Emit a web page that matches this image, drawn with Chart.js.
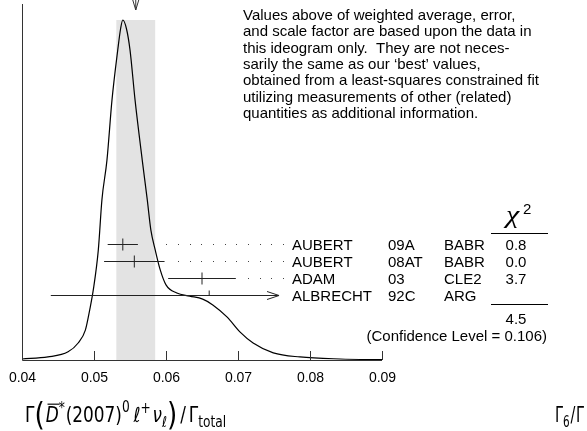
<!DOCTYPE html>
<html>
<head>
<meta charset="utf-8">
<script src="https://cdn.jsdelivr.net/npm/chart.js@4.4.1/dist/chart.umd.min.js"></script>
<style>
  html, body { margin: 0; padding: 0; background: #fff; }
  canvas { display: block; }
</style>
</head>
<body>
<canvas id="ideogram" width="587" height="431"></canvas>
<script>
// ideogram curve (value, relative height)
const curveX = [0.0400, 0.0436, 0.0464, 0.0478, 0.0488, 0.0494, 0.0499, 0.0506, 0.0511, 0.0518,
  0.0525, 0.0533, 0.0537, 0.0540, 0.0545, 0.0550, 0.0557, 0.0567, 0.0574, 0.0579, 0.0585,
  0.0592, 0.0600, 0.0615, 0.0633, 0.0651, 0.0665, 0.0685, 0.0703, 0.0721, 0.0749, 0.0786,
  0.0842, 0.0900];
const curveY = [0.003, 0.009, 0.024, 0.050, 0.088, 0.147, 0.206, 0.324, 0.471, 0.588,
  0.765, 0.912, 0.975, 1.000, 0.975, 0.912, 0.765, 0.588, 0.471, 0.382, 0.324,
  0.265, 0.221, 0.197, 0.188, 0.179, 0.162, 0.126, 0.082, 0.050, 0.021, 0.009,
  0.003, 0.001];

// measurements
const authors = ['AUBERT', 'AUBERT', 'ADAM', 'ALBRECHT'];
const years = ['09A', '08AT', '03', '92C'];
const experiments = ['BABR', 'BABR', 'CLE2', 'ARG'];
const values = [0.0540, 0.0556, 0.0650, 0.0660];
const errors = [0.0021, 0.0042, 0.0047, 0.0220];
const chi2 = ['0.8', '0.0', '3.7', ''];
const chi2Total = '4.5';
const confidenceLevel = '0.106';

// weighted average and its error
const avgValue = 0.0558;
const avgError = 0.0027;

const xTicks = [0.04, 0.05, 0.06, 0.07, 0.08, 0.09];
const xTickLabels = ['0.04', '0.05', '0.06', '0.07', '0.08', '0.09'];
const displayCut = 0.0757;

const note = [
  'Values above of weighted average, error,',
  'and scale factor are based upon the data in',
  'this ideogram only.  They are not neces-',
  'sarily the same as our \u2018best\u2019 values,',
  'obtained from a least-squares constrained fit',
  'utilizing measurements of other (related)',
  'quantities as additional information.'
];

const SANS = '"Liberation Sans", Arial, Helvetica, sans-serif';
const DEJA = '"DejaVu Sans", sans-serif';

// draws a run of text pieces at (0, 0) of the current transform
function drawPieces(ctx, pieces) {
  let x = 0;
  for (const p of pieces) {
    ctx.font = p.font;
    const w = ctx.measureText(p.t).width;
    ctx.fillText(p.t, x, p.dy || 0);
    if (p.over) {
      ctx.beginPath();
      ctx.lineWidth = 1;
      ctx.moveTo(x + 2, -15.5);
      ctx.lineTo(x + w + 1, -15.5);
      ctx.stroke();
    }
    x += w + (p.gap || 0);
  }
}

const ideogramPlugin = {
  id: 'ideogram',
  beforeDatasetsDraw(chart) {
    const ctx = chart.ctx;
    const xs = chart.scales.x, ys = chart.scales.y;
    const a = chart.chartArea;
    ctx.save();
    ctx.fillStyle = '#e3e3e3';
    const x0 = xs.getPixelForValue(avgValue - avgError);
    const x1 = xs.getPixelForValue(avgValue + avgError);
    const top = ys.getPixelForValue(1.0);
    ctx.fillRect(x0, top, x1 - x0, a.bottom - top);
    ctx.restore();
  },
  afterDatasetsDraw(chart) {
    const ctx = chart.ctx;
    const xs = chart.scales.x, ys = chart.scales.y, rows = chart.scales.rows;
    const a = chart.chartArea;
    ctx.save();
    ctx.strokeStyle = '#333';
    ctx.fillStyle = '#000';
    ctx.lineWidth = 1;

    // axes
    ctx.beginPath();
    ctx.moveTo(a.left + 0.5, a.top);
    ctx.lineTo(a.left + 0.5, a.bottom + 0.5);
    ctx.lineTo(a.right, a.bottom + 0.5);
    ctx.stroke();
    ctx.font = '14px ' + SANS;
    ctx.textAlign = 'center';
    xTicks.forEach((t, i) => {
      const px = Math.round(xs.getPixelForValue(t)) + 0.5;
      ctx.beginPath();
      ctx.moveTo(px, a.bottom);
      ctx.lineTo(px, a.bottom - 9);
      ctx.stroke();
      ctx.fillText(xTickLabels[i], px, a.bottom + 22);
    });

    // weighted average marker at top
    const ax = xs.getPixelForValue(avgValue);
    ctx.beginPath();
    ctx.moveTo(ax - 3, 0); ctx.lineTo(ax, 10); ctx.lineTo(ax + 3, 0);
    ctx.moveTo(ax, 0); ctx.lineTo(ax, 10);
    ctx.stroke();

    // measurements
    const cutPx = xs.getPixelForValue(displayCut);
    const bandEnd = xs.getPixelForValue(avgValue + avgError);
    values.forEach((v, i) => {
      const py = Math.round(rows.getPixelForValue(i)) + 0.5;
      const lo = xs.getPixelForValue(v - errors[i]);
      let hi = xs.getPixelForValue(v + errors[i]);
      const clipped = hi > cutPx;
      if (clipped) hi = cutPx;
      const c = xs.getPixelForValue(v);
      ctx.strokeStyle = '#222';
      ctx.beginPath();
      ctx.moveTo(lo, py); ctx.lineTo(hi, py);
      if (clipped) {
        ctx.moveTo(hi - 12, py - 4); ctx.lineTo(hi, py); ctx.lineTo(hi - 12, py + 4);
        ctx.moveTo(c, py - 5); ctx.lineTo(c, py);
      } else {
        ctx.moveTo(c, py - 6); ctx.lineTo(c, py + 6);
      }
      ctx.stroke();
      if (!clipped) {
        ctx.fillStyle = '#444';
        for (let dx = cutPx + 4; dx > Math.max(hi + 8, bandEnd); dx -= 11.67) {
          ctx.fillRect(Math.round(dx), py - 0.5, 1, 1);
        }
      }
      ctx.fillStyle = '#000';
      ctx.textAlign = 'left';
      ctx.font = '15px ' + SANS;
      ctx.fillText(authors[i], 292, py + 5);
      ctx.fillText(years[i], 388, py + 5);
      ctx.fillText(experiments[i], 444, py + 5);
      ctx.textAlign = 'center';
      ctx.fillText(chi2[i], 516, py + 5);
    });

    // chi-square column
    const r0 = rows.getPixelForValue(0);
    const r3 = rows.getPixelForValue(values.length - 1);
    ctx.textAlign = 'left';
    ctx.save();
    ctx.translate(506, r0 - 21);
    ctx.scale(1.2, 1);
    ctx.font = 'italic 25px "Liberation Serif", "Times New Roman", serif';
    ctx.fillText('\u03c7', 0, 0);
    ctx.restore();
    ctx.font = '15px ' + SANS;
    ctx.fillText('2', 523, r0 - 30);
    ctx.strokeStyle = '#000';
    ctx.beginPath();
    ctx.moveTo(491, Math.round(r0 - 11) + 0.5); ctx.lineTo(548, Math.round(r0 - 11) + 0.5);
    ctx.moveTo(491, Math.round(r3 + 9) + 0.5); ctx.lineTo(548, Math.round(r3 + 9) + 0.5);
    ctx.stroke();
    ctx.textAlign = 'center';
    ctx.fillText(chi2Total, 516, r3 + 29);
    ctx.textAlign = 'right';
    ctx.fillText('(Confidence Level = ' + confidenceLevel + ')', 547, r3 + 46);

    // note
    ctx.textAlign = 'left';
    ctx.font = '15px ' + SANS;
    note.forEach((line, i) => ctx.fillText(line, 243, 20 + i * 16.33));

    // quantity labels
    const big = '18px ' + DEJA, sm = '13px ' + DEJA, it = 'italic 18px ' + DEJA;
    const paren = '28px ' + DEJA;
    ctx.strokeStyle = '#000';
    ctx.save();
    ctx.translate(25, 422);
    ctx.scale(0.94, 1.15);
    drawPieces(ctx, [
      { t: '\u0393', font: big },
      { t: '(', font: paren, dy: 3, gap: 1 },
      { t: 'D', font: it, over: true },
      { t: '*', font: sm, dy: -8, gap: 1 },
      { t: '(2007)', font: big },
      { t: '0', font: sm, dy: -9, gap: 4 },
      { t: '\u2113', font: it },
      { t: '+', font: sm, dy: -8, gap: 2 },
      { t: '\u03bd', font: it },
      { t: '\u2113', font: 'italic 13px ' + DEJA, dy: 4 },
      { t: ')', font: paren, dy: 3, gap: 3 },
      { t: '/', font: big, gap: 3 },
      { t: '\u0393', font: big },
      { t: 'total', font: sm, dy: 4 }
    ]);
    ctx.restore();
    ctx.save();
    ctx.translate(555, 422);
    ctx.scale(0.8, 1.15);
    drawPieces(ctx, [
      { t: '\u0393', font: big },
      { t: '6', font: sm, dy: 4, gap: 1 },
      { t: '/', font: big, gap: 1 },
      { t: '\u0393', font: big }
    ]);
    ctx.restore();
    ctx.restore();
  }
};

new Chart(document.getElementById('ideogram'), {
  type: 'line',
  data: {
    datasets: [{
      data: curveX.map((x, i) => ({ x: x, y: curveY[i] })),
      borderColor: '#000',
      borderWidth: 1.2,
      pointRadius: 0,
      fill: false,
      cubicInterpolationMode: 'monotone'
    }]
  },
  options: {
    responsive: false,
    animation: false,
    layout: { padding: { left: 22, right: 205, top: 4, bottom: 71 } },
    scales: {
      x: { type: 'linear', min: 0.04, max: 0.09, display: false },
      y: { min: 0, max: 356 / 340, display: false },
      rows: { type: 'linear', min: -14.35, max: 6.59, reverse: true, display: false }
    },
    plugins: {
      legend: { display: false },
      tooltip: { enabled: false }
    }
  },
  plugins: [ideogramPlugin]
});
</script>
</body>
</html>
